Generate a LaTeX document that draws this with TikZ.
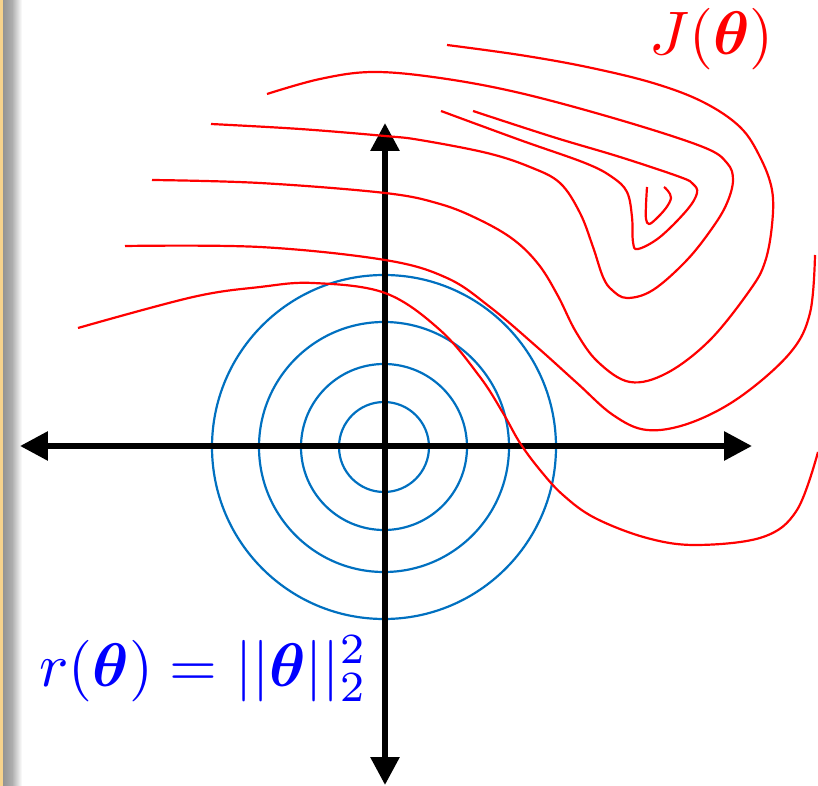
\documentclass[tikz,border=0pt]{standalone}
\usepackage{mathtools, amssymb, bm}
\usepackage{xcolor}
\usepackage{tikz}
\usetikzlibrary{arrows.meta, calc}

\definecolor{ringblue}{RGB}{0,112,192}
\definecolor{slidetan}{RGB}{247,211,140}

\begin{document}
\begin{tikzpicture}[
  x=0.02cm, y=-0.02cm,
  axis/.style={line width=3.4pt, {Triangle[length=5.6mm,width=5.6mm]}-{Triangle[length=5.6mm,width=5.6mm]}},
  ring/.style={ringblue, line width=1.25pt},
  level/.style={red, line width=1.25pt, smooth, tension=0.6},
  lab/.style={inner sep=0pt, scale=3.5, anchor=base west}
]
\useasboundingbox (0,0) rectangle (818,786);
% slide edge on the left
\fill[slidetan] (0,0) rectangle (3,786);
\shade[left color=black!42, right color=black!32] (3,0) rectangle (12,786);
\shade[left color=black!32, right color=white] (12,0) rectangle (22,786);

% regulariser: circles round the origin
\coordinate (O) at (384,447);
\foreach \r in {45,83,125,172}
  \draw[ring] (O) circle (\r);

% axes
\coordinate (xl) at (20,446);
\coordinate (xr) at (752,446);
\coordinate (yt) at (385,123);
\coordinate (yb) at (385,785);
\draw[axis] (xl) -- (xr);
\draw[axis] (yb) -- (yt);

% level sets of the loss
\draw[level] plot coordinates {(647,187) (646,205) (646,219) (649,224) (656,219) (666,208) (671,198) (668,191) (664,187)};
\draw[level] plot coordinates {(441,111) (520,140) (585,163) (612,177) (627,192) (632,217) (633,242) (638,249) (660,237) (687,210) (697,193) (693,184) (680,177) (620,157) (553,137) (473,111)};
\draw[level] plot coordinates {(267,94) (320,79) (373,72) (440,78) (520,93) (620,120) (703,147) (727,163) (733,180) (727,203) (713,227) (687,260) (653,290) (627,298) (612,290) (603,277) (593,247) (580,213) (560,183) (530,167) (487,153) (420,140) (385,136) (300,129) (211,124)};
\draw[level] plot coordinates {(447,45) (520,55) (587,67) (653,83) (703,102) (740,127) (760,157) (772,190) (772,225) (765,262) (750,290) (710,340) (667,373) (630,382) (598,362) (576,332) (558,296) (539,265) (514,240) (480,220) (440,204) (385,193) (260,183) (152,180)};
\draw[level] plot coordinates {(125,246) (260,247) (385,260) (447,278) (490,307) (537,347) (577,383) (613,415) (647,430) (690,423) (740,397) (790,353) (810,313) (815,255)};
\draw[level] plot coordinates {(78,328) (193,297) (260,287) (313,283) (385,293) (440,330) (480,377) (503,413) (520,443) (540,470) (563,495) (595,518) (647,538) (697,545) (763,537) (797,510) (818,452)};

% labels
\node[lab, red] (Jlab) at (648,55) {$J(\bm{\theta})$};
\node[lab, blue] (rlab) at (38,686) {$r(\bm{\theta}) = ||\bm{\theta}||_2^2$};
\end{tikzpicture}
\end{document}
